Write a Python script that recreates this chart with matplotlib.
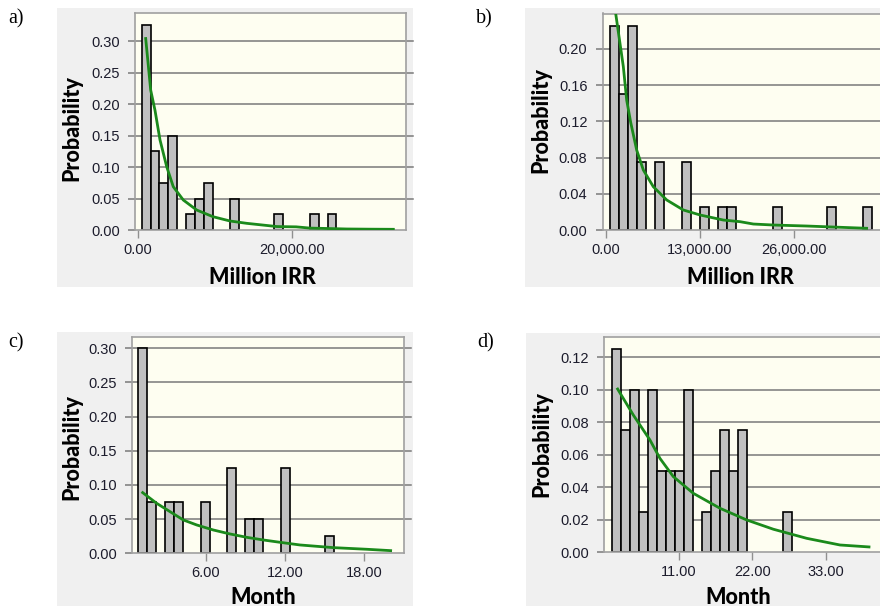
import numpy as np
import matplotlib
matplotlib.use("Agg")
import matplotlib.pyplot as plt
from matplotlib.patches import Rectangle
import matplotlib.transforms as mtransforms

# ---- data ------------------------------------------------------------------
# a) cost, Million IRR
a_bin_start = 517
a_bin_width = 1145
a_prob = [0.325, 0.125, 0.075, 0.15, 0, 0.025, 0.05, 0.075, 0, 0, 0.05,
          0, 0, 0, 0, 0.025, 0, 0, 0, 0.025, 0, 0.025]
a_fit_x = [1038, 1685, 2241, 2888, 3754, 4607, 5900, 7633, 9741, 11939,
           14098, 17977, 18800, 20500, 22290, 24500, 27030, 30000, 33060]
a_fit_y = [0.304, 0.222, 0.190, 0.143, 0.1005, 0.0687, 0.0476, 0.0317,
           0.0211, 0.0143, 0.0106, 0.0055, 0.0053, 0.0050, 0.0030, 0.0024,
           0.0016, 0.0013, 0.0011]

# b) cost, Million IRR
b_bin_start = 600
b_bin_width = 1244
b_prob = [0.225, 0.15, 0.225, 0.075, 0, 0.075, 0, 0, 0.075, 0, 0.025, 0,
          0.025, 0.025, 0, 0, 0, 0, 0.025, 0, 0, 0, 0, 0, 0.025, 0, 0, 0,
          0.025]
b_fit_x = [1378, 2433, 2894, 3445, 4272, 5190, 6568, 8405, 10702, 12999,
           16214, 18510, 20350, 23106, 27700, 32290, 35960]
b_fit_y = [0.2394, 0.1805, 0.1436, 0.1190, 0.0884, 0.0663, 0.0478, 0.0332,
           0.0221, 0.0166, 0.0110, 0.0092, 0.0066, 0.0055, 0.0044, 0.0030,
           0.0019]

# c) duration, Month
c_bin_start = 0.908
c_bin_width = 0.674
c_prob = [0.30, 0.075, 0, 0.075, 0.075, 0, 0, 0.075, 0, 0, 0.125, 0,
          0.05, 0.05, 0, 0, 0.125, 0, 0, 0, 0, 0.025]
c_fit_x = [1.236, 2.29, 3.30, 4.31, 5.32, 6.58, 7.84, 9.10, 10.36, 11.62,
           13.13, 15.65, 18.18, 19.99]
c_fit_y = [0.0888, 0.0732, 0.0610, 0.0488, 0.0415, 0.0341, 0.0283, 0.0234,
           0.0195, 0.0161, 0.0122, 0.0083, 0.0059, 0.0039]

# d) duration, Month
d_bin_start = 1.04
d_bin_width = 1.344
d_prob = [0.125, 0.075, 0.10, 0.025, 0.10, 0.05, 0.05, 0.05, 0.10, 0,
          0.025, 0.05, 0.075, 0.05, 0.075, 0, 0, 0, 0, 0.025]
d_fit_x = [1.89, 4.23, 6.72, 8.21, 10.20, 13.19, 17.17, 21.16, 25.14,
           30.12, 35.09, 39.42]
d_fit_y = [0.1005, 0.0845, 0.0691, 0.0578, 0.0466, 0.0363, 0.0271, 0.0199,
           0.0142, 0.0086, 0.0045, 0.0033]

# ---- figure ---------------------------------------------------------------
W, H = 880, 606
fig = plt.figure(figsize=(W / 100, H / 100), dpi=100)
fig.patch.set_facecolor("white")

tick_font = dict(family=["Liberation Sans", "DejaVu Sans"], size=10.5)
label_font = dict(family=["Lato", "DejaVu Sans"], weight="black", size=15.5)
panel_font = dict(family=["Liberation Serif", "DejaVu Serif"], size=14.5)


def px_rect(left, top, right, bottom):
    return [left / W, 1 - bottom / H, (right - left) / W, (bottom - top) / H]


def draw_panel(tag, bg, box, xlim, ylim, xticks, xlabels, yticks,
               bin_start, bin_width, prob, fit_x, fit_y, xlabel,
               tag_xy, ylab_xy, xlab_xy):
    # light gray card behind each chart
    l, t, r, b = bg
    fig.add_artist(Rectangle((l / W, 1 - b / H), (r - l) / W, (b - t) / H,
                             transform=fig.transFigure, facecolor="#f0f0f0",
                             edgecolor="none", zorder=-5))
    ax = fig.add_axes(px_rect(*box))
    ax.set_facecolor("#fefef1")
    ax.set_xlim(*xlim)
    ax.set_ylim(*ylim)

    # horizontal grid, running a little past the right frame
    ext = 1 + 7 / (box[2] - box[0])
    trans = mtransforms.blended_transform_factory(ax.transAxes, ax.transData)
    for yv in yticks[1:]:
        ax.plot([0, ext], [yv, yv], color="#7a7a7a", lw=1.1,
                transform=trans, clip_on=False, zorder=1)

    edges = bin_start + bin_width * np.arange(len(prob))
    keep = np.array(prob) > 0
    ax.bar(edges[keep], np.array(prob)[keep], width=bin_width, align="edge",
           color="#c0c0c0", edgecolor="black", linewidth=1.2, zorder=2)
    ax.plot(fit_x, fit_y, color="#1b8a1b", lw=2.0, zorder=3)

    for s in ax.spines.values():
        s.set_color("#a0a0a0")
        s.set_linewidth(1.2)

    ax.set_xticks(xticks)
    ax.set_xticklabels(xlabels, **tick_font)
    ax.set_yticks(yticks)
    ax.set_yticklabels(["%.2f" % v for v in yticks], **tick_font)
    ax.tick_params(axis="x", length=6, width=1, color="#909090", pad=3,
                   labelcolor="#1c1c2c")
    ax.tick_params(axis="y", length=5, width=1.1, color="#7a7a7a", pad=6,
                   labelcolor="#1c1c2c")

    fig.text(tag_xy[0] / W, 1 - tag_xy[1] / H, tag, ha="left", va="center",
             **panel_font)
    fig.text(ylab_xy[0] / W, 1 - ylab_xy[1] / H, "Probability", rotation=90,
             ha="center", va="center", **label_font)
    fig.text(xlab_xy[0] / W, 1 - xlab_xy[1] / H, xlabel, ha="center",
             va="center", **label_font)
    return ax


draw_panel("a)", (57, 8, 413, 287), (135, 12.7, 406, 230),
           (-345, 34698), (0, 0.345), [0, 20000], ["0.00", "20,000.00"],
           [0, 0.05, 0.10, 0.15, 0.20, 0.25, 0.30],
           a_bin_start, a_bin_width, a_prob, a_fit_x, a_fit_y, "Million IRR",
           (8, 19), (72, 128), (262, 277))

draw_panel("b)", (525, 8, 880, 287), (602.7, 13.5, 884, 230),
           (-409, 38354), (0, 0.2392), [0, 13000, 26000],
           ["0.00", "13,000.00", "26,000.00"],
           [0, 0.04, 0.08, 0.12, 0.16, 0.20],
           b_bin_start, b_bin_width, b_prob, b_fit_x, b_fit_y, "Million IRR",
           (476, 19), (541, 120), (740, 277))

draw_panel("c)", (57, 332, 413, 606), (132, 336.7, 404, 553.3),
           (0.429, 21.0), (0, 0.317), [6, 12, 18], ["6.00", "12.00", "18.00"],
           [0, 0.05, 0.10, 0.15, 0.20, 0.25, 0.30],
           c_bin_start, c_bin_width, c_prob, c_fit_x, c_fit_y, "Month",
           (8, 343), (72, 447), (263, 597))

draw_panel("d)", (526, 333, 880, 606), (604.3, 336.7, 884, 552.3),
           (-0.10, 41.66), (0, 0.1327), [11, 22, 33],
           ["11.00", "22.00", "33.00"],
           [0, 0.02, 0.04, 0.06, 0.08, 0.10, 0.12],
           d_bin_start, d_bin_width, d_prob, d_fit_x, d_fit_y, "Month",
           (477, 343), (542, 444), (738, 597))

fig.savefig("out.png", dpi=100)
